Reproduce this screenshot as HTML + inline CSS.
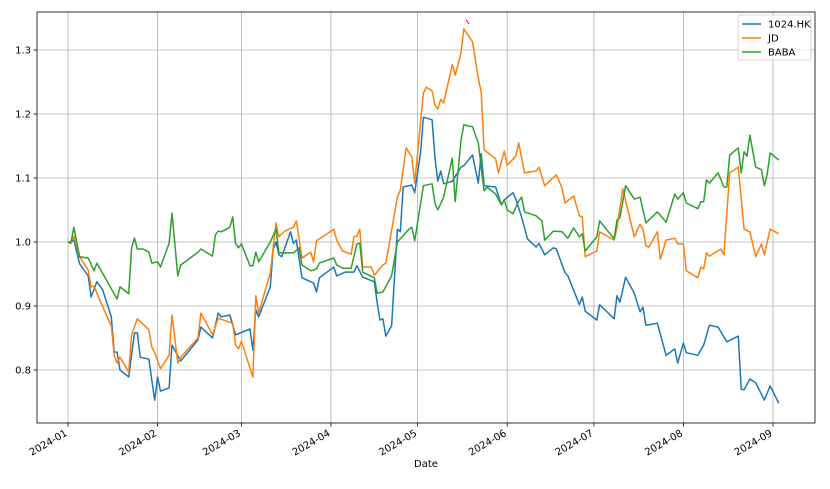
<!DOCTYPE html>
<html><head><meta charset="utf-8"><style>
body{margin:0;background:#fff;font-family:"Liberation Sans","DejaVu Sans",sans-serif}
svg text{font-family:"DejaVu Sans","Liberation Sans",sans-serif;font-size:10px;fill:#000}
</style></head><body>
<svg id="chart" width="830" height="484" xmlns="http://www.w3.org/2000/svg"></svg>
<script>
const blueDays=[0,1,2,4,7,8,10,12,15,16,17,18,21,23,24,25,28,29,30,31,32,35,36,39,45,46,50,52,53,56,58,63,64,65,66,70,71,72,73,74,77,78,79,81,85,86,87,92,93,96,99,100,102,106,107,108,109,110,112,114,115,116,119,120,122,123,126,127,128,129,130,133,136,137,140,142,143,144,148,150,151,154,155,157,159,162,163,165,168,169,172,173,177,178,179,183,184,189,190,191,193,196,198,199,200,204,207,210,211,213,214,218,220,222,225,228,232,233,234,236,238,241,243,246];
const blueVals=[1.0,1.0,1.003,0.966,0.947,0.914,0.938,0.925,0.883,0.828,0.828,0.8,0.789,0.858,0.858,0.82,0.817,0.784,0.753,0.789,0.767,0.772,0.839,0.814,0.847,0.867,0.85,0.889,0.883,0.886,0.855,0.864,0.831,0.894,0.883,0.93,0.988,1.0,0.98,0.977,1.016,0.998,1.003,0.944,0.936,0.922,0.944,0.961,0.947,0.953,0.953,0.963,0.945,0.938,0.905,0.878,0.88,0.853,0.869,1.02,1.016,1.086,1.089,1.077,1.139,1.195,1.191,1.133,1.095,1.111,1.091,1.095,1.117,1.119,1.136,1.092,1.138,1.088,1.086,1.058,1.066,1.077,1.067,1.039,1.005,0.992,0.998,0.98,0.991,0.989,0.952,0.947,0.902,0.914,0.892,0.878,0.902,0.88,0.916,0.906,0.945,0.92,0.891,0.898,0.87,0.873,0.823,0.833,0.811,0.842,0.827,0.823,0.839,0.87,0.867,0.844,0.853,0.77,0.769,0.786,0.78,0.753,0.775,0.748];
const jdDays=[0,1,2,4,7,8,9,11,15,16,17,18,21,22,24,28,29,30,32,35,36,38,39,45,46,50,52,57,58,59,60,64,65,66,70,72,73,75,78,79,81,84,85,86,92,93,95,98,99,100,101,102,105,106,109,110,114,115,117,119,120,123,124,126,127,128,129,130,133,134,136,137,140,142,143,144,148,149,151,152,155,156,158,162,163,165,169,171,172,175,177,178,179,183,184,189,190,192,196,198,199,200,201,204,205,207,210,211,213,214,218,219,220,221,222,226,227,229,232,234,236,238,240,241,243,246];
const jdVals=[1.0,1.0,1.009,0.977,0.956,0.93,0.931,0.909,0.869,0.823,0.811,0.82,0.797,0.855,0.88,0.863,0.836,0.827,0.802,0.823,0.886,0.811,0.82,0.85,0.889,0.855,0.881,0.873,0.839,0.833,0.845,0.789,0.916,0.889,0.952,1.03,1.008,1.017,1.023,1.033,0.975,0.984,0.969,1.002,1.02,1.003,0.986,0.981,1.009,1.009,1.02,0.961,0.961,0.948,0.964,0.967,1.07,1.081,1.147,1.133,1.092,1.233,1.242,1.236,1.214,1.208,1.223,1.217,1.277,1.261,1.295,1.333,1.313,1.256,1.234,1.144,1.13,1.108,1.142,1.12,1.134,1.155,1.108,1.111,1.117,1.088,1.105,1.084,1.061,1.072,1.041,1.039,0.977,0.986,1.016,1.003,1.022,1.083,1.008,1.028,1.02,0.994,0.992,1.016,0.973,1.003,1.006,0.997,0.997,0.955,0.944,0.961,0.958,0.983,0.978,0.989,0.98,1.108,1.117,1.02,1.016,0.977,0.997,0.98,1.02,1.013];
const babaDays=[0,1,2,4,7,9,10,17,18,21,22,23,24,26,28,29,31,32,35,36,38,39,45,46,50,51,52,53,56,57,58,59,60,63,64,65,66,70,72,73,78,80,81,84,86,87,92,93,95,98,100,101,102,106,107,109,112,114,118,119,120,123,126,127,128,130,133,134,136,137,140,142,143,144,145,148,150,151,152,154,156,157,158,162,164,165,168,171,173,175,177,178,179,183,184,189,190,191,193,196,198,199,200,204,207,210,211,213,214,218,219,220,221,222,225,227,228,229,232,233,234,235,236,238,240,241,242,243,246];
const babaVals=[1.0,0.998,1.023,0.977,0.975,0.955,0.967,0.911,0.93,0.919,0.991,1.006,0.989,0.989,0.984,0.967,0.969,0.961,0.998,1.045,0.947,0.964,0.984,0.989,0.978,1.011,1.017,1.016,1.023,1.039,0.998,0.991,0.997,0.963,0.963,0.984,0.969,1.0,1.02,0.983,0.983,0.991,0.964,0.955,0.958,0.967,0.975,0.964,0.959,0.959,0.997,0.998,0.953,0.944,0.92,0.922,0.947,1.0,1.02,1.023,1.002,1.088,1.091,1.061,1.05,1.07,1.131,1.063,1.159,1.183,1.18,1.155,1.117,1.08,1.086,1.075,1.058,1.066,1.05,1.044,1.064,1.07,1.047,1.041,1.033,1.003,1.017,1.016,1.006,1.022,1.008,1.013,0.986,1.008,1.033,1.005,1.034,1.038,1.088,1.067,1.07,1.05,1.03,1.047,1.031,1.075,1.067,1.077,1.061,1.052,1.063,1.063,1.097,1.092,1.108,1.086,1.086,1.136,1.147,1.108,1.141,1.134,1.167,1.117,1.113,1.088,1.106,1.139,1.128];
const yTicks=[0.8,0.9,1.0,1.1,1.2,1.3];
const yTickLabels=["0.8","0.9","1.0","1.1","1.2","1.3"];
const xTickDays=[0,31,60,91,121,152,182,213,244];
const xTickLabels=["2024-01","2024-02","2024-03","2024-04","2024-05","2024-06","2024-07","2024-08","2024-09"];

const NS="http://www.w3.org/2000/svg";
const svg=document.getElementById('chart');
const L=37,T=12,R=815,B=423;
function xs(d){return 68+d*(705/244);}
function ys(v){return 242-(v-1)*640;}
function mk(tag,attrs,parent){const e=document.createElementNS(NS,tag);for(const k in attrs)e.setAttribute(k,attrs[k]);(parent||svg).appendChild(e);return e;}

// grid
yTicks.forEach((v,i)=>{
  const g=mk('line',{x1:L,x2:R,y1:ys(v),y2:ys(v),stroke:'#b0b0b0','stroke-width':0.8});
  
  
  mk('line',{x1:L-3.5,x2:L,y1:ys(v),y2:ys(v),stroke:'#000','stroke-width':0.8});
  const t=mk('text',{x:L-6,y:ys(v)+3.5,'text-anchor':'end'});
  t.textContent=yTickLabels[i];
  
  
});
xTickDays.forEach((d,i)=>{
  const x=xs(d);
  const g=mk('line',{x1:x,x2:x,y1:T,y2:B,stroke:'#b0b0b0','stroke-width':0.8});
  
  
  mk('line',{x1:x,x2:x,y1:B,y2:B+3.5,stroke:'#000','stroke-width':0.8});
  const t=mk('text',{x:x,y:B+12,'text-anchor':'end',transform:`rotate(-30 ${x} ${B+12})`});
  t.textContent=xTickLabels[i];
  
  
});
function series(days,vals,color,name){
  const p=mk('polyline',{points:days.map((d,i)=>xs(d).toFixed(1)+','+ys(vals[i]).toFixed(1)).join(' '),fill:'none',stroke:color,'stroke-width':1.5,'stroke-linejoin':'round'});
  
  
}
series(blueDays,blueVals,'#1f77b4','line-1024hk');
series(jdDays,jdVals,'#ff7f0e','line-jd');
series(babaDays,babaVals,'#2ca02c','line-baba');
const rm=mk('line',{x1:466,y1:20,x2:469,y2:24,stroke:'#ff0000','stroke-width':1});


const fr=mk('rect',{x:L,y:T,width:R-L,height:B-T,fill:'none',stroke:'#000','stroke-width':0.8});


const xt=mk('text',{x:426,y:467,'text-anchor':'middle'});
xt.textContent='Date';


// legend
const lg=mk('g',{});


mk('rect',{x:738,y:15,width:73,height:45,fill:'#fff','fill-opacity':0.8,stroke:'#ccc','stroke-width':0.8,rx:2},lg);
[['1024.HK','#1f77b4'],['JD','#ff7f0e'],['BABA','#2ca02c']].forEach((e,i)=>{
  const y=24+i*14;
  mk('line',{x1:742,x2:761,y1:y,y2:y,stroke:e[1],'stroke-width':1.5},lg);
  const t=mk('text',{x:768,y:y+3.5},lg);
  t.textContent=e[0];
  
  
});
</script>
</body></html>
